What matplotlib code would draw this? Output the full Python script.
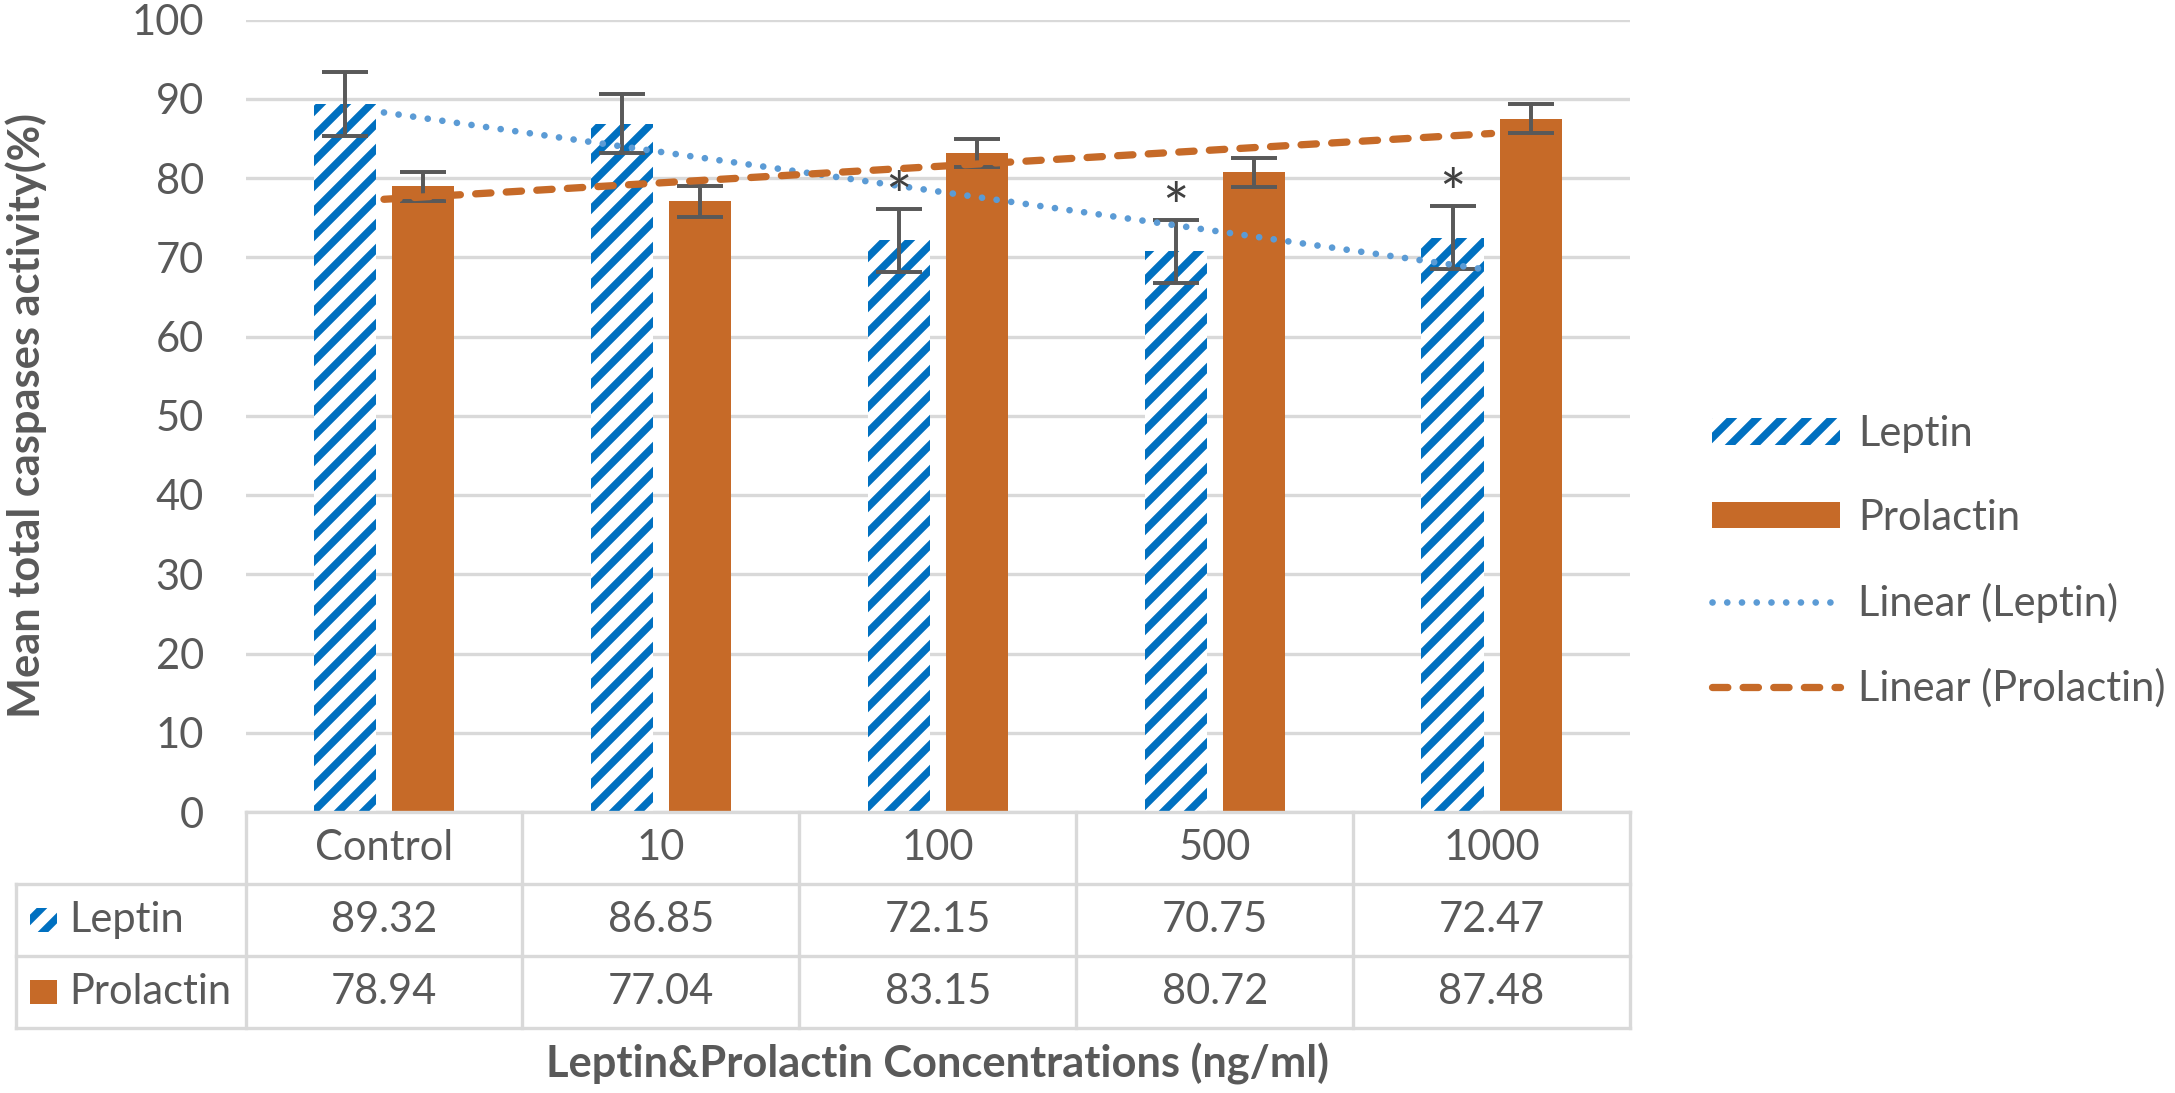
import numpy as np
import matplotlib.pyplot as plt
from matplotlib.patches import Patch, Rectangle
from matplotlib.lines import Line2D

# -----------------------------
# DATA
# -----------------------------
categories = ["Control", "10", "100", "500", "1000"]
leptin = [89.32, 86.85, 72.15, 70.75, 72.47]
prolactin = [78.94, 77.04, 83.15, 80.72, 87.48]
leptin_err = [4.0, 3.7, 4.0, 4.0, 4.0]
prolactin_err = [1.8, 1.9, 1.8, 1.85, 1.8]
significant = [False, False, True, True, True]
yticks = list(range(0, 101, 10))

series_names = ["Leptin", "Prolactin"]
trend_names = ["Linear (Leptin)", "Linear (Prolactin)"]

# -----------------------------
# STYLE
# -----------------------------
BLUE = "#0070C0"
LBLUE = "#5B9BD5"
ORANGE = "#C66A28"
GREY = "#595959"
GRID = "#D9D9D9"
FS = 20
FS_TITLE = 20.8
HATCH = "//"

plt.rcParams["font.family"] = ["Lato", "DejaVu Sans"]
plt.rcParams["hatch.linewidth"] = 3.6
plt.rcParams["hatch.color"] = BLUE

W, H, DPI = 2175, 1093, 150
fig = plt.figure(figsize=(W / DPI, H / DPI), dpi=DPI)


def px_box(x0, y0, x1, y1):
    return [x0 / W, 1 - y1 / H, (x1 - x0) / W, (y1 - y0) / H]


ax = fig.add_axes(px_box(245.5, 19.5, 1630, 812))
x = np.arange(len(categories))
bw = 0.224
off = 0.141

# bars
ax.bar(x - off, leptin, width=bw, facecolor="white", edgecolor=BLUE,
       linewidth=0, hatch=HATCH, zorder=2)
ax.bar(x + off, prolactin, width=bw, color=ORANGE, linewidth=0, zorder=2)

# error bars
ekw = dict(fmt="none", ecolor=GREY, elinewidth=1.9, capsize=11, capthick=1.9, zorder=3)
ax.errorbar(x - off, leptin, yerr=leptin_err, **ekw)
ax.errorbar(x + off, prolactin, yerr=prolactin_err, **ekw)

# significance stars
for i, sig in enumerate(significant):
    if sig:
        ax.text(x[i] - off, leptin[i] + leptin_err[i] + 1.0, "*", ha="center",
                va="center", fontsize=30, color="#404040", zorder=5)

# linear trendlines
fit_l = np.polyfit(x, leptin, 1)
fit_p = np.polyfit(x, prolactin, 1)
ax.plot(x, np.polyval(fit_l, x), color=LBLUE, lw=3.2, linestyle=(0, (0.01, 2.2)),
        dash_capstyle="round", zorder=4)
ax.plot(x, np.polyval(fit_p, x), color=ORANGE, lw=3.5, linestyle=(0, (2.1, 2.1)),
        dash_capstyle="round", zorder=4)

ax.set_xlim(-0.5, len(categories) - 0.5)
ax.set_ylim(0, 100)
ax.set_yticks(yticks)
ax.set_xticks([])
ax.yaxis.grid(True, color=GRID, lw=1.6)
ax.set_axisbelow(True)
for s in ax.spines.values():
    s.set_visible(False)
ax.tick_params(axis="y", length=0, pad=20, labelsize=FS, labelcolor=GREY)

# -----------------------------
# DATA TABLE
# -----------------------------
tab = fig.add_axes(px_box(15.6, 812, 1630, 1028))
left = -0.5 - (245.5 - 15.6) / 276.9
tab.set_xlim(left, len(categories) - 0.5)
tab.set_ylim(3, 0)
tab.axis("off")

lkw = dict(color=GRID, lw=1.6, clip_on=False, solid_capstyle="projecting")
tab.plot([-0.5, len(categories) - 0.5], [0, 0], **lkw)
for r in [1, 2, 3]:
    tab.plot([left, len(categories) - 0.5], [r, r], **lkw)
tab.plot([left, left], [1, 3], **lkw)
for k in range(len(categories) + 1):
    tab.plot([k - 0.5, k - 0.5], [0, 3], **lkw)

for i, c in enumerate(categories):
    tab.text(i, 0.5, c, ha="center", va="center", fontsize=FS, color=GREY)
    tab.text(i, 1.5, f"{leptin[i]:.2f}", ha="center", va="center", fontsize=FS, color=GREY)
    tab.text(i, 2.5, f"{prolactin[i]:.2f}", ha="center", va="center", fontsize=FS, color=GREY)

kx0 = left + (30 - 15.6) / 276.9
kw = 27 / 276.9
tab.add_patch(Rectangle((kx0, 1.5 - 0.167), kw, 0.333, facecolor="white",
                        edgecolor=BLUE, lw=0, hatch=HATCH, clip_on=False))
tab.add_patch(Rectangle((kx0, 2.5 - 0.167), kw, 0.333, facecolor=ORANGE,
                        lw=0, clip_on=False))
tx = left + (69 - 15.6) / 276.9
tab.text(tx, 1.5, series_names[0], ha="left", va="center", fontsize=FS, color=GREY)
tab.text(tx, 2.5, series_names[1], ha="left", va="center", fontsize=FS, color=GREY)

# -----------------------------
# LEGEND + TITLES
# -----------------------------
handles = [
    Patch(facecolor="white", edgecolor=BLUE, lw=0, hatch=HATCH),
    Patch(facecolor=ORANGE, lw=0),
    Line2D([], [], color=LBLUE, lw=3.2, linestyle=(0, (0.01, 2.2)), dash_capstyle="round"),
    Line2D([], [], color=ORANGE, lw=3.5, linestyle=(0, (2.1, 2.1)), dash_capstyle="round"),
]
leg = fig.legend(handles, series_names + trend_names, loc="upper left",
                 bbox_to_anchor=(1712 / W, 1 - 415 / H), frameon=False,
                 fontsize=FS, handlelength=3.07, handleheight=0.6,
                 handletextpad=0.43, labelspacing=1.1, borderpad=0,
                 borderaxespad=0)
for t in leg.get_texts():
    t.set_color(GREY)

fig.text(26 / W, 1 - 416 / H, "Mean total caspases activity(%)", rotation=90,
         ha="center", va="center", fontsize=FS_TITLE, fontweight="bold", color=GREY)
fig.text(938 / W, 1 - 1064 / H, "Leptin&Prolactin Concentrations (ng/ml)",
         ha="center", va="center", fontsize=FS_TITLE, fontweight="bold", color=GREY)

fig.savefig("out.png", dpi=DPI, facecolor="white")
